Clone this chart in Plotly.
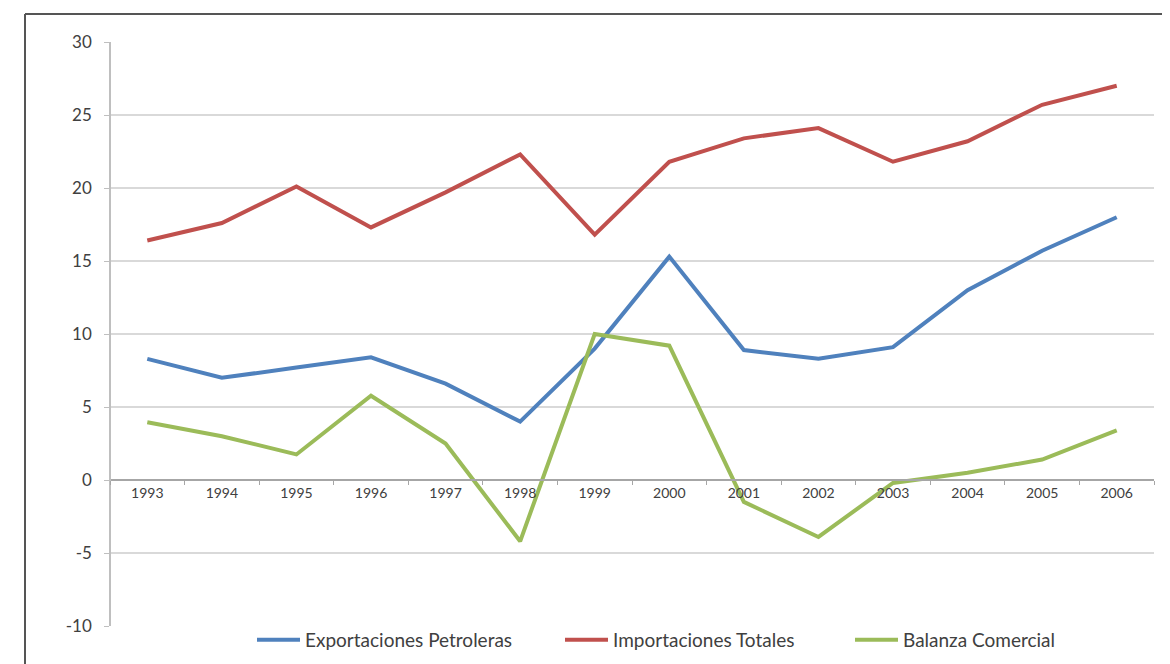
import plotly.graph_objects as go

years = ["1993", "1994", "1995", "1996", "1997", "1998", "1999",
         "2000", "2001", "2002", "2003", "2004", "2005", "2006"]
exportaciones = [8.3, 7.0, 7.7, 8.4, 6.6, 4.0, 9.0, 15.3, 8.9, 8.3, 9.1, 13.0, 15.7, 18.0]
importaciones = [16.4, 17.6, 20.1, 17.3, 19.7, 22.3, 16.8, 21.8, 23.4, 24.1, 21.8, 23.2, 25.7, 27.0]
balanza = [3.95, 3.0, 1.75, 5.77, 2.5, -4.2, 10.0, 9.2, -1.5, -3.9, -0.2, 0.5, 1.4, 3.4]

y_tickvals = [-10, -5, 0, 5, 10, 15, 20, 25, 30]
y_ticktext = ["-10", "-5", "0", "5", "10", "15", "20", "25", "30"]

names = ["Exportaciones Petroleras", "Importaciones Totales", "Balanza Comercial"]
colors = ["#4F81BD", "#C0504D", "#9BBB59"]
legend_ids = ["legend", "legend2", "legend3"]

FONT = "Lato, Carlito, Open Sans, sans-serif"

fig = go.Figure()
for name, vals, col, lg in zip(names, [exportaciones, importaciones, balanza], colors, legend_ids):
    fig.add_trace(go.Scatter(x=years, y=vals, mode="lines", name=name,
                             line=dict(color=col, width=4), legend=lg))

# plot area in figure coords: x 102..1146, y 34..618 (page has 8px body margin)
W, H = 1162, 656
L, R, T, B = 102, 16, 34, 38
PW = W - L - R
PH = H - T - B


def px(xs):
    return (xs - 8 - L) / PW


def py(ys):
    return (H - B - (ys - 8)) / PH


leg_common = dict(orientation="h", yanchor="middle", xanchor="left",
                  font=dict(size=19, color="#404040", family=FONT),
                  bgcolor="rgba(0,0,0,0)", borderwidth=0, itemwidth=43)

fig.update_layout(
    width=W, height=H,
    margin=dict(l=L, r=R, t=T, b=B, autoexpand=False),
    paper_bgcolor="white", plot_bgcolor="white",
    font=dict(family=FONT, color="#404040"),
    showlegend=True,
    legend=dict(x=px(257 - 5), y=py(640), **leg_common),
    legend2=dict(x=px(565 - 5), y=py(640), **leg_common),
    legend3=dict(x=px(855 - 5), y=py(640), **leg_common),
    xaxis=dict(
        type="category", anchor="free", position=0.25,
        showgrid=False, showline=True, linecolor="#a6a6a6", linewidth=1.5,
        ticks="outside", ticklen=4, tickcolor="#a6a6a6", tickson="boundaries",
        tickfont=dict(size=14, color="#404040"), range=[-0.5, 13.5],
        zeroline=False,
    ),
    yaxis=dict(
        range=[-10, 30], tickmode="array", tickvals=y_tickvals, ticktext=y_ticktext,
        showgrid=True, gridcolor="#d9d9d9", gridwidth=1.5,
        showline=True, linecolor="#bfbfbf", linewidth=1.5,
        ticks="outside", ticklen=5, tickcolor="#bfbfbf",
        tickfont=dict(size=17, color="#404040"), ticklabelstandoff=9,
        zeroline=False, anchor="free", position=0,
    ),
    shapes=[
        dict(type="line", xref="paper", yref="paper", x0=px(25), x1=px(1165),
             y0=py(14), y1=py(14), line=dict(color="#555555", width=2)),
        dict(type="line", xref="paper", yref="paper", x0=px(25), x1=px(25),
             y0=py(14), y1=py(700), line=dict(color="#555555", width=2)),
        dict(type="line", xref="paper", yref="paper", x0=px(1165), x1=px(1165),
             y0=py(14), y1=py(700), line=dict(color="#555555", width=2)),
    ],
)

fig.write_html("out.html")
